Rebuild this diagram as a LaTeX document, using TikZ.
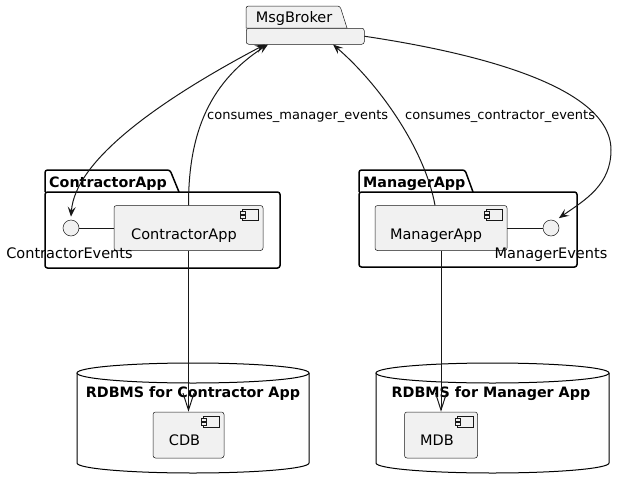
\documentclass[tikz,border=0pt]{standalone}
\usepackage{fontspec}
\setmainfont{DejaVu Sans}
\usetikzlibrary{arrows.meta, positioning}
\definecolor{umlfill}{HTML}{F1F1F1}
\definecolor{umlline}{HTML}{181818}

% small component glyph at the top right of a component box
\newcommand{\compicon}[1]{%
    \draw[icon] ([shift={(-21,4)}]#1.north east) rectangle ++(16,11);
    \draw[icon] ([shift={(-23,6)}]#1.north east) rectangle ++(5,3);
    \draw[icon] ([shift={(-23,10)}]#1.north east) rectangle ++(5,3);
}

\begin{document}
\begin{tikzpicture}[x=1pt, y=-1pt,
    every node/.style={font=\fontsize{14.5}{16}\selectfont, inner sep=0pt},
    comp/.style={draw=umlline, fill=umlfill, line width=0.5pt, rounded corners=2.5pt, minimum height=45pt},
    icon/.style={draw=umlline, fill=umlfill, line width=0.5pt},
    iface/.style={circle, draw=umlline, fill=umlfill, line width=0.5pt, minimum size=16pt},
    pkg/.style={draw=black, line width=1.5pt},
    db/.style={draw=black, fill=white, line width=1pt},
    title/.style={font=\fontsize{14.3}{16}\selectfont\bfseries},
    lbl/.style={font=\fontsize{13}{15}\selectfont, anchor=base west},
    conn/.style={draw=umlline, line width=1pt},
    tip/.style={-{Stealth[length=10pt, width=8pt, inset=4pt]}},
    twotip/.style={{Stealth[length=10pt, width=8pt, inset=4pt]}-{Stealth[length=10pt, width=8pt, inset=4pt]}},
    dep/.style={-{Straight Barb[length=17pt, width=11pt]}}]

    \useasboundingbox (0,0) rectangle (635,490);

    % Databases
    \draw[db] (77,373) -- (77,463) arc[start angle=180, end angle=360, x radius=116pt, y radius=10pt] -- (309,373);
    \draw[db] (193,373) ellipse [x radius=116pt, y radius=10pt];
    \node[title, anchor=base] (cdbTitle) at (193,397) {RDBMS for Contractor App};
    \draw[db] (376,373) -- (376,463) arc[start angle=180, end angle=360, x radius=116.5pt, y radius=10pt] -- (609,373);
    \draw[db] (492.5,373) ellipse [x radius=116.5pt, y radius=10pt];
    \node[title, anchor=base] (mdbTitle) at (491,397) {RDBMS for Manager App};

    \node[comp, minimum width=71pt, minimum height=46pt] (cdb) at (188.5,435) {};
    \node[anchor=base] (cdbText) at (184.5,445) {CDB};
    \compicon{cdb}
    \node[comp, minimum width=73pt, minimum height=46pt] (mdb) at (441,435) {};
    \node[anchor=base] (mdbText) at (437,445) {MDB};
    \compicon{mdb}

    % Message broker
    \draw[icon] (246,28) [rounded corners=2.5pt] -- (246,6) -- (340,6) [sharp corners] -- (347,28) -- cycle;
    \node[comp, minimum width=118pt, minimum height=16pt, anchor=north west] (broker) at (246,28) {};
    \node[anchor=base] (brokerTitle) at (294,22) {MsgBroker};

    % Packages
    \draw[pkg] (45,192) [rounded corners=2.5pt] -- (45,170) -- (170,170) [sharp corners] -- (179,192);
    \draw[pkg, rounded corners=2.5pt] (45,192) rectangle (280,268);
    \node[title, anchor=base west] (ctrPkgTitle) at (49,187) {ContractorApp};
    \draw[pkg] (359,192) [rounded corners=2.5pt] -- (359,170) -- (465,170) [sharp corners] -- (473,192);
    \draw[pkg, rounded corners=2.5pt] (359,192) rectangle (577,267);
    \node[title, anchor=base west] (mgrPkgTitle) at (363,187) {ManagerApp};

    % Components and interfaces
    \node[comp, minimum width=149pt] (ctrApp) at (188.5,228) {};
    \node[anchor=base] (ctrAppText) at (184,239) {ContractorApp};
    \compicon{ctrApp}
    \node[comp, minimum width=132pt] (mgrApp) at (441,228) {};
    \node[anchor=base] (mgrAppText) at (436,239) {ManagerApp};
    \compicon{mgrApp}

    \node[iface] (ctrEvents) at (71,228) {};
    \node[anchor=base] (ctrEventsText) at (69.5,258) {ContractorEvents};
    \node[iface] (mgrEvents) at (551,228) {};
    \node[anchor=base] (mgrEventsText) at (551,258) {ManagerEvents};

    % Connectors
    \draw[conn] (ctrEvents) -- (ctrApp);
    \draw[conn] (mgrApp) -- (mgrEvents);
    \draw[conn, dep] (ctrApp) -- (cdb);
    \draw[conn, dep] (mgrApp) -- (mdb);

    \draw[conn, tip] (ctrApp.north) .. controls (188.5,140) and (205,85) .. ([xshift=22pt]broker.south west);
    \draw[conn, tip] ([xshift=-6pt]mgrApp.north) .. controls (425,150) and (380,85) .. ([xshift=87pt]broker.south west);
    \draw[conn, twotip] ([xshift=19pt]broker.south west) .. controls (160,100) and (75,160) .. ([yshift=3pt]ctrEvents.north);
    \draw[conn, tip] (broker.east) .. controls (470,52) and (611,85) .. (611,150)
        .. controls (611,185) and (585,200) .. ([shift={(2,-4)}]mgrEvents.north east);

    % Labels
    \node[lbl] (lblMgrEvents) at (207,119) {consumes\_manager\_events};
    \node[lbl] (lblCtrEvents) at (405,119) {consumes\_contractor\_events};
\end{tikzpicture}
\end{document}
